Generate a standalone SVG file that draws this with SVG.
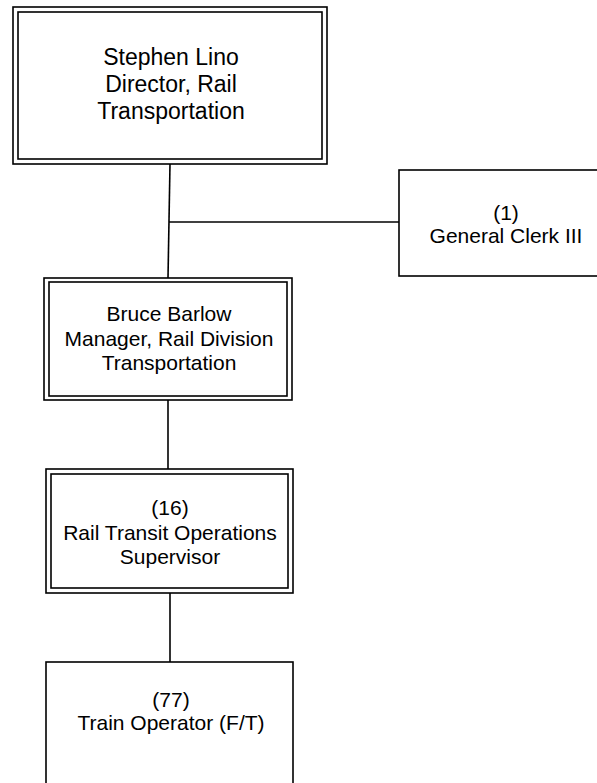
<svg xmlns="http://www.w3.org/2000/svg" width="597" height="783" viewBox="0 0 597 783">
<style>
.box{fill:none;stroke:#000;stroke-width:1.6}
.bg{fill:#fff;stroke:none}
.t{font-family:"Liberation Sans",Arial,sans-serif;font-size:21px;fill:#000;text-anchor:middle}
.big{font-size:23px}
.c{stroke:#000;stroke-width:1.6;fill:none}
</style>
<rect x="0" y="0" width="597" height="783" fill="#fff"/>
<g id="connectors">
<line class="c" x1="170" y1="164" x2="168" y2="278"/>
<line class="c" x1="169" y1="222" x2="399" y2="222"/>
<line class="c" x1="168" y1="400" x2="168" y2="469"/>
<line class="c" x1="170" y1="593" x2="170" y2="662"/>
</g>
<g id="director">
<rect class="box" x="13" y="7" width="314" height="157"/>
<rect class="box" x="18" y="12" width="304" height="147"/>
<text class="t big" x="171" y="65">Stephen Lino</text>
<text class="t big" x="171" y="92">Director, Rail</text>
<text class="t big" x="171" y="119">Transportation</text>
</g>
<g id="clerk">
<rect class="box" x="399" y="170" width="215" height="106"/>
<text class="t" x="506" y="220">(1)</text>
<text class="t" x="506" y="243">General Clerk III</text>
</g>
<g id="manager">
<rect class="box" x="44" y="278" width="248" height="122"/>
<rect class="box" x="49" y="282" width="238" height="114"/>
<text class="t" x="169" y="321">Bruce Barlow</text>
<text class="t" x="169" y="346">Manager, Rail Division</text>
<text class="t" x="169" y="370">Transportation</text>
</g>
<g id="supervisor">
<rect class="box" x="46" y="469" width="247" height="124"/>
<rect class="box" x="51" y="474" width="237" height="114"/>
<text class="t" x="170" y="515">(16)</text>
<text class="t" x="170" y="540">Rail Transit Operations</text>
<text class="t" x="170" y="564">Supervisor</text>
</g>
<g id="operator">
<rect class="box" x="46" y="662" width="247" height="140"/>
<text class="t" x="171" y="707">(77)</text>
<text class="t" x="171" y="730">Train Operator (F/T)</text>
</g>
</svg>
